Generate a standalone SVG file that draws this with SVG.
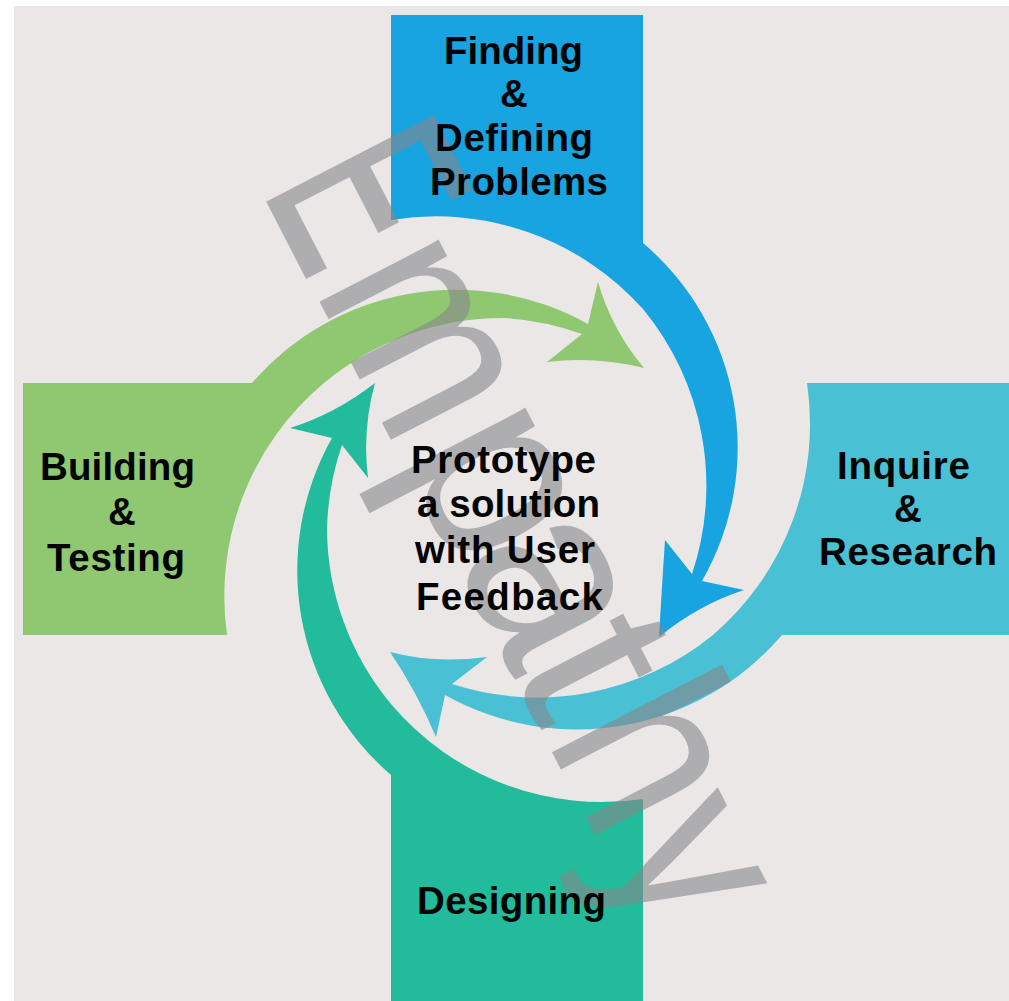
<svg xmlns="http://www.w3.org/2000/svg" width="1009" height="1001" viewBox="0 0 1009 1001">
<style>
.lbl{font-family:"Liberation Sans",Arial,sans-serif;font-weight:bold;font-size:38.5px;fill:#030303}
.blue{fill:#17a4e0}.cyan{fill:#49c0d3}.green{fill:#8fc870}.teal{fill:#22bb9b}
.wm{font-family:"Liberation Sans",Arial,sans-serif;font-size:254px;fill:#87878c;opacity:.6}
</style>
<rect width="1009" height="1001" fill="#ffffff"/>
<rect x="14" y="6" width="995" height="995" fill="#ebe7e6"/>
<g id="connectors">
<path class="blue" d="M643 243A268 268 0 0 1 702 581L744 590Q698 605 659 637Q662 585 665 540L692 574A278 278 0 0 0 643 309Z"/>
<path class="cyan" d="M713 635A278 278 0 0 1 452 684L487 657Q435 664 390 652Q417 692 436 737L445 695A270 270 0 0 0 782 635Z"/>
<path class="green" d="M252 383A270 270 0 0 1 588 324L598 282Q612 330 644 368Q595 356 547 362L582 334A280 280 0 0 0 505 318A280 280 0 0 0 324 383Z"/>
<path class="teal" d="M391 775A270 270 0 0 1 332 438L290 428Q335 414 375 383Q362 430 368 478L342 445A276 276 0 0 0 327 530A276 276 0 0 0 391 704Z"/>
</g>
<g id="node-finding-band"><path class="blue" d="M391 15H643V309A278 278 0 0 0 391 220Z"/></g>
<g id="node-inquire-band"><path class="cyan" d="M1009 383H807A278 278 0 0 1 713 635H1009Z"/></g>
<g id="node-building-band"><path class="green" d="M23 383H324A278 278 0 0 0 227 635H23Z"/></g>
<g id="node-designing-band"><path class="teal" d="M391 704A276 276 0 0 0 643 799V1001H391Z"/></g>
<text id="watermark" class="wm" transform="translate(267 200) rotate(62.7)"><tspan x="-11" textLength="105" lengthAdjust="spacingAndGlyphs" style="font-size:270px;stroke:#87878c;stroke-width:3px">E</tspan><tspan x="99" textLength="185.6" lengthAdjust="spacingAndGlyphs">m</tspan><tspan x="287" textLength="137" lengthAdjust="spacingAndGlyphs">p</tspan><tspan x="405" textLength="135" lengthAdjust="spacingAndGlyphs">a</tspan><tspan x="527" textLength="72" lengthAdjust="spacingAndGlyphs" style="font-size:240px">t</tspan><tspan x="606" textLength="123" lengthAdjust="spacingAndGlyphs" style="font-size:264px">h</tspan><tspan x="728" textLength="109" lengthAdjust="spacingAndGlyphs" style="font-size:248px">y</tspan></text>
<g id="node-finding">
<text class="lbl" x="444" y="64" textLength="139">Finding</text>
<text class="lbl" x="500" y="107">&amp;</text>
<text class="lbl" x="435" y="151" textLength="158">Defining</text>
<text class="lbl" x="430" y="195" textLength="178">Problems</text>
</g>
<g id="node-inquire">
<text class="lbl" x="837" y="479" textLength="133">Inquire</text>
<text class="lbl" x="894" y="522">&amp;</text>
<text class="lbl" x="819" y="565" textLength="178">Research</text>
</g>
<g id="node-building">
<text class="lbl" x="40" y="480" textLength="155">Building</text>
<text class="lbl" x="108" y="525">&amp;</text>
<text class="lbl" x="47" y="571" textLength="138">Testing</text>
</g>
<g id="node-designing">
<text class="lbl" x="417" y="914" textLength="189">Designing</text>
</g>
<g id="node-prototype">
<text class="lbl" x="411" y="473" textLength="185">Prototype</text>
<text class="lbl" x="417" y="517" textLength="183">a solution</text>
<text class="lbl" x="415" y="563" textLength="180">with User</text>
<text class="lbl" x="416" y="610" textLength="187">Feedback</text>
</g>
</svg>
